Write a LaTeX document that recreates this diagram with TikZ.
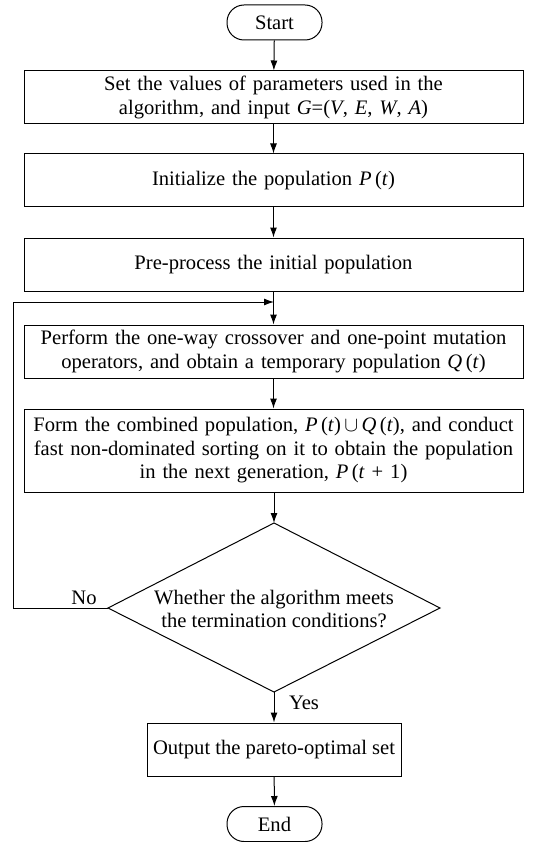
\documentclass[tikz,border=0pt]{standalone}
\usepackage{fontspec}
\setmainfont{Liberation Serif}
\usetikzlibrary{arrows.meta}
\newcommand{\iv}[1]{\textit{#1}}
\begin{document}
\begin{tikzpicture}[x=1pt,y=-1pt,
  every node/.style={font=\fontsize{20.6}{23.5}\selectfont},
  box/.style={draw, line width=1pt, minimum width=499pt, minimum height=53pt, inner sep=0pt, align=center, text width=495pt},
  term/.style={draw, line width=1pt, rounded corners=17pt, minimum width=95pt, minimum height=35pt, inner sep=0pt},
  line/.style={line width=1pt},
  arr/.style={line, -{Latex[length=10pt,width=7pt]}},
  lbl/.style={inner sep=0pt}]
\useasboundingbox (0,0) rectangle (534,842);
\node[term] (start) at (274.5,22.5) {Start};
\node[box] (b1) at (273.5,97.5) {Set the values of parameters used in the\\algorithm, and input \iv{G}=(\iv{V}, \iv{E}, \iv{W}, \iv{A})};
\node[box] (b2) at (273.5,180.5) {Initialize the population \iv{P}\,(\iv{t})};
\node[box] (b3) at (273.5,264.5) {Pre-process the initial population};
\node[box] (b4) at (273.5,351.5) {Perform the one-way crossover and one-point mutation\\operators, and obtain a temporary population \iv{Q}\,(\iv{t})};
\node[box, minimum height=83pt] (b5) at (273.5,450.5) {Form the combined population, \iv{P}\,(\iv{t})\,$\cup$\,\iv{Q}\,(\iv{t}), and conduct\\fast non-dominated sorting on it to obtain the population\\in the next generation, \iv{P}\,(\iv{t} + 1)};
\node[lbl, align=center] (dec) at (274,609) {Whether the algorithm meets\\the termination conditions?};
\coordinate (dT) at (274,523);
\coordinate (dR) at (440,608);
\coordinate (dB) at (274,692);
\coordinate (dL) at (108,608);
\draw[line] (dT) -- (dR) -- (dB) -- (dL) -- cycle;
\node[draw, line width=1pt, minimum width=254pt, minimum height=53pt, inner sep=0pt] (out) at (274,749.5) {Output the pareto-optimal set};
\node[term] (end) at (274.5,824) {End};
\coordinate (loopin) at (274,302);
\coordinate (lc) at (13,608);
\node[lbl] (no) at (84,598) {No};
\node[lbl] (yes) at (304,703) {Yes};
\draw[arr] (start) -- (b1);
\draw[arr] (b1) -- (b2);
\draw[arr] (b2) -- (b3);
\draw[arr] (b3) -- (b4);
\draw[arr] (b4) -- (b5);
\draw[arr] (b5.south -| dT) -- (dT);
\draw[arr] (dB) -- (out);
\draw[arr] (out) -- (end);
\draw[arr] (dL) -- (lc) |- (loopin);
\end{tikzpicture}
\end{document}
